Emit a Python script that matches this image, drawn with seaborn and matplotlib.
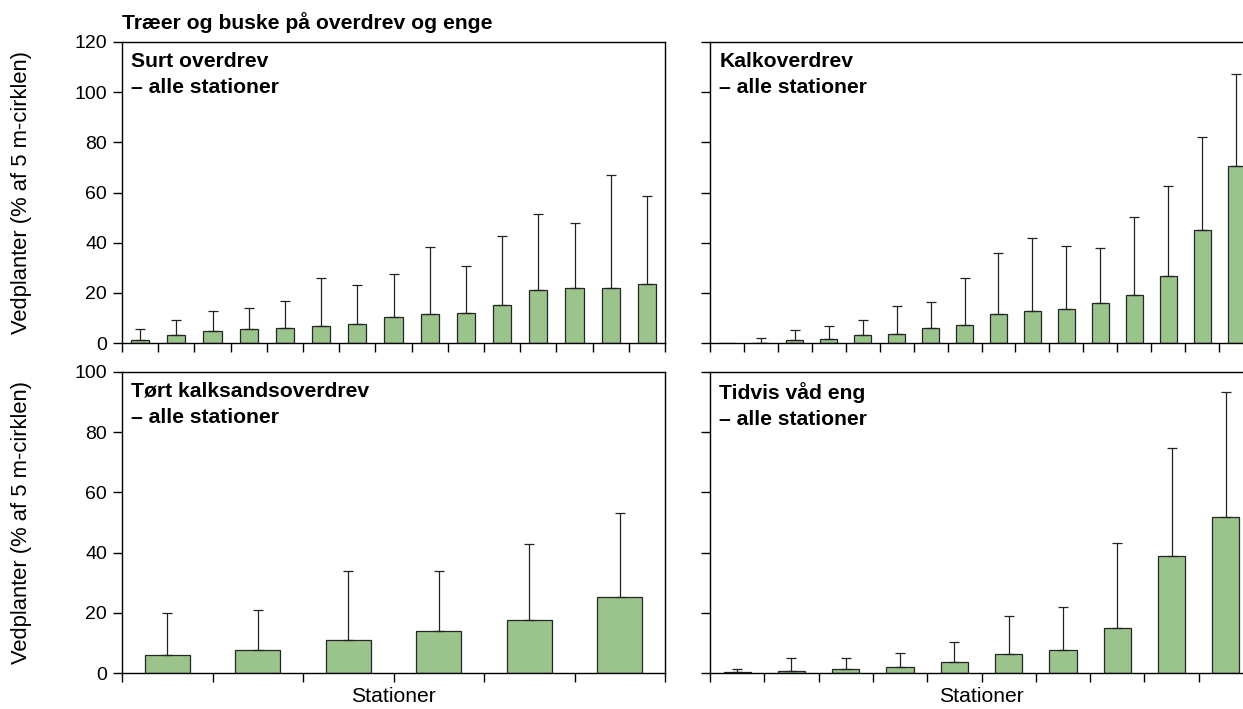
import numpy as np
import pandas as pd
import seaborn as sns
import matplotlib.pyplot as plt

# Values: mean per station and upper standard deviation
surt_mean = [1.1, 3.3, 4.6, 5.6, 6.0, 6.6, 7.4, 10.2, 11.7, 11.9, 15.0, 21.1, 21.9, 22.1, 23.5]
surt_sd = [4.5, 5.9, 8.1, 8.5, 10.7, 19.3, 15.7, 17.5, 26.4, 18.6, 27.8, 30.5, 25.8, 44.9, 35.3]

kalk_mean = [0, 0, 1.2, 1.7, 3.3, 3.6, 5.8, 7.2, 11.7, 12.9, 13.7, 15.9, 19.2, 26.9, 45.0, 70.6]
kalk_sd = [np.nan, 2.0, 3.8, 5.1, 6.0, 11.0, 10.4, 18.7, 24.1, 28.9, 25.0, 21.9, 30.9, 35.8, 37.2, 36.7]

tort_mean = [6.1, 7.7, 11.1, 13.9, 17.5, 25.3]
tort_sd = [13.7, 13.3, 22.7, 19.9, 25.3, 27.9]

eng_mean = [0.2, 0.8, 1.2, 1.9, 3.5, 6.4, 7.6, 14.8, 38.9, 51.8]
eng_sd = [1.1, 4.3, 3.9, 4.6, 6.9, 12.6, 14.4, 28.4, 35.8, 41.4]

titles = ['Surt overdrev\n– alle stationer', 'Kalkoverdrev\n– alle stationer',
          'Tørt kalksandsoverdrev\n– alle stationer', 'Tidvis våd eng\n– alle stationer']
suptitle = 'Træer og buske på overdrev og enge'
ylab = 'Vedplanter (% af 5 m-cirklen)'
xlab = 'Stationer'

sns.set_style('ticks')
plt.rcParams['font.family'] = ['Liberation Sans', 'DejaVu Sans']
plt.rcParams['axes.linewidth'] = 1.0
plt.rcParams['axes.edgecolor'] = 'black'
plt.rcParams['text.color'] = 'black'
plt.rcParams['axes.labelcolor'] = 'black'

bar_color = '#9bc38c'
W, H = 1243, 709


def draw_panel(ax, means, sds, title, ymax, left_labels):
    n = len(means)
    df = pd.DataFrame({'station': [str(i + 1) for i in range(n)], 'value': means})
    sns.barplot(data=df, x='station', y='value', color=bar_color, saturation=1,
                width=0.5, edgecolor='#262626', linewidth=0.9, ax=ax)
    x = np.arange(n)
    m = np.array(means, dtype=float)
    sd = np.array(sds, dtype=float)
    ok = ~np.isnan(sd)
    ax.errorbar(x[ok], m[ok], yerr=[np.zeros(ok.sum()), sd[ok]], fmt='none',
                ecolor='#222222', elinewidth=0.9, capsize=3.6, capthick=0.9)
    ax.set_xlim(-0.5, n - 0.5)
    ax.set_xticks(np.arange(n + 1) - 0.5)
    ax.set_xticklabels([])
    ax.set_ylim(0, ymax)
    ax.set_yticks(np.arange(0, ymax + 1, 20))
    ax.tick_params(direction='out', length=6.3, width=1.0, pad=4.5, labelsize=14,
                   colors='black')
    if not left_labels:
        ax.tick_params(labelleft=False)
    for s in ax.spines.values():
        s.set_visible(True)
        s.set_color('black')
    ax.set_xlabel('')
    ax.set_ylabel('')
    ax.text(0.017, 0.967, title, transform=ax.transAxes, ha='left', va='top',
            fontsize=15.2, fontweight='bold', linespacing=1.45)


fig = plt.figure(figsize=(W / 100, H / 100), dpi=100)
aw, ah = 543 / W, 301 / H
ax_tl = fig.add_axes([122 / W, 1 - 343 / H, aw, ah])
ax_tr = fig.add_axes([710 / W, 1 - 343 / H, aw, ah])
ax_bl = fig.add_axes([122 / W, 1 - 673 / H, aw, ah])
ax_br = fig.add_axes([710 / W, 1 - 673 / H, aw, ah])

draw_panel(ax_tl, surt_mean, surt_sd, titles[0], 120, True)
draw_panel(ax_tr, kalk_mean, kalk_sd, titles[1], 120, False)
draw_panel(ax_bl, tort_mean, tort_sd, titles[2], 100, True)
draw_panel(ax_br, eng_mean, eng_sd, titles[3], 100, False)

for ax in [ax_tl, ax_bl]:
    ax.set_ylabel(ylab, fontsize=15.8)
    ax.yaxis.set_label_coords(-0.166, 0.5)

for ax in [ax_bl, ax_br]:
    ax.set_xlabel(xlab, fontsize=15.2)
    ax.xaxis.set_label_coords(0.5, -0.047)

fig.text(122 / W, 1 - 23 / H, suptitle, ha='left', va='center', fontsize=15.2,
         fontweight='bold')

fig.savefig('out.png', dpi=100)
